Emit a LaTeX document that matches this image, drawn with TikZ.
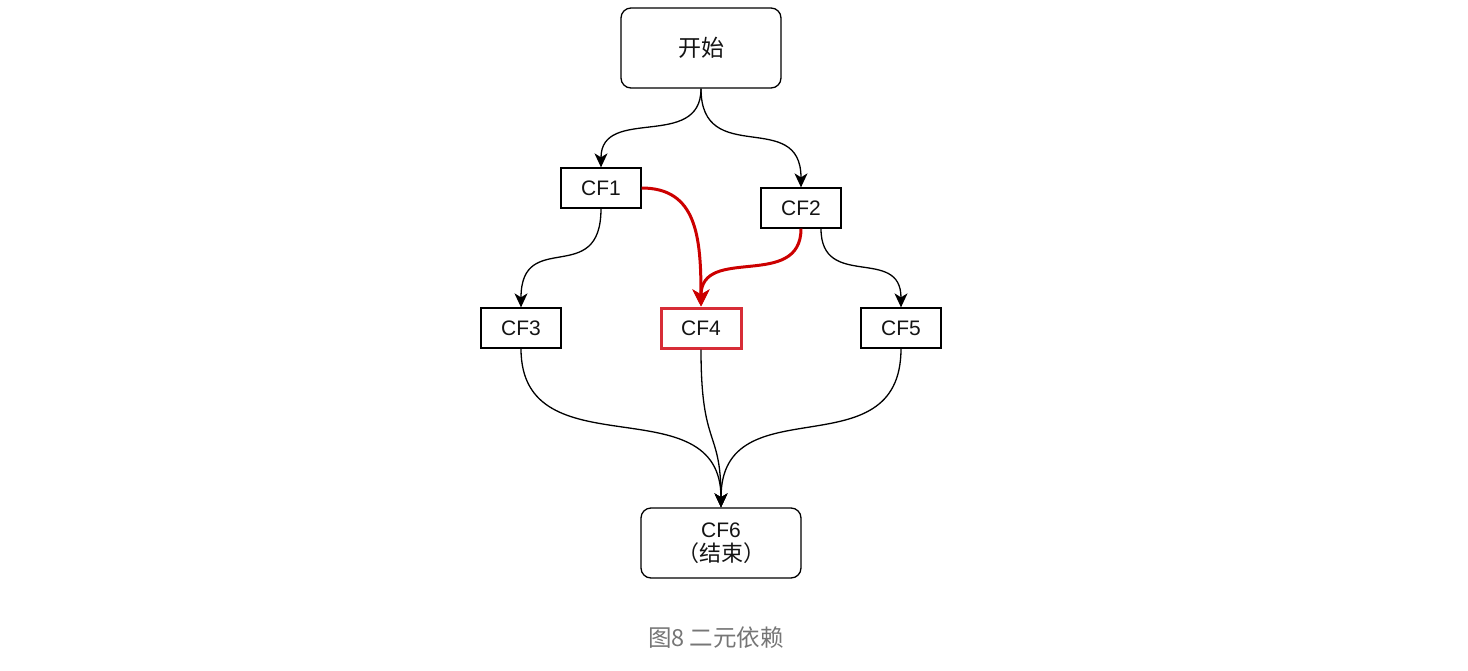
\documentclass[tikz,border=0pt]{standalone}
\usepackage{fontspec}
\setmainfont{Liberation Sans}
\newfontfamily\cjk{Noto Sans CJK SC}
\usetikzlibrary{arrows.meta}
\definecolor{arrred}{RGB}{204,0,0}
\definecolor{boxred}{RGB}{215,45,55}
\definecolor{txt}{RGB}{20,20,20}
\definecolor{capgray}{RGB}{118,118,118}
\tikzset{
  box/.style={draw=black, line width=1.3pt, minimum width=80pt, minimum height=40pt, inner sep=0pt, font=\fontsize{21}{25}\selectfont, text=txt},
  rbox/.style={box, rounded corners=10pt, minimum width=160pt},
  redbox/.style={box, draw=boxred, line width=3pt, minimum width=80pt, minimum height=40pt},
  conn/.style={line width=1.3pt, -{Stealth[length=14pt,width=13pt,inset=4pt]}},
  redconn/.style={line width=3pt, draw=arrred, -{Stealth[length=17pt,width=17pt,inset=5pt]}},
}
\begin{document}
\begin{tikzpicture}[x=1pt,y=-1pt]
\useasboundingbox (0,0) rectangle (1468,670);
\node[rbox, minimum height=80pt] (start) at (701,48) {\cjk\fontsize{23}{27}\selectfont 开始};
\node[box] (cf1) at (601,188) {CF1};
\node[box] (cf2) at (801,208) {CF2};
\node[box] (cf3) at (521,328) {CF3};
\node[redbox] (cf4) at (701,328) {CF4};
\node[box] (cf5) at (901,328) {CF5};
\node[rbox, minimum height=70pt, align=center] (cf6) at (721,543) {CF6\\[-1pt]{\cjk\fontsize{22}{26}\selectfont （结束）}};
\node[font=\cjk\fontsize{23.5}{27}\selectfont, text=capgray] (cap) at (716,638) {图8 二元依赖};

\coordinate (cf2a) at (cf2.south);
\coordinate (cf2b) at ([xshift=20pt]cf2.south);
\coordinate (cf6t) at (cf6.north);

\draw[conn] (start.south) .. controls +(0,62) and +(0,-62) .. (cf1.north);
\draw[conn] (start.south) .. controls +(0,80) and +(0,-80) .. (cf2.north);
\draw[conn] (cf1.south) .. controls +(0,80) and +(0,-80) .. (cf3.north);
\draw[conn] (cf2b) .. controls +(0,62) and +(0,-62) .. (cf5.north);
\draw[conn] (cf3.south) .. controls +(0,125) and +(0,-125) .. (cf6t);
\draw[conn] (cf5.south) .. controls +(0,125) and +(0,-125) .. (cf6t);
\draw[conn] (cf4.south) .. controls +(0,100) and +(0,-80) .. (cf6t);
\draw[redconn] (cf1.east) .. controls +(55,0) and +(0,-70) .. (cf4.north);
\draw[redconn] (cf2a) .. controls +(0,62) and +(0,-62) .. (cf4.north);
\end{tikzpicture}
\end{document}
